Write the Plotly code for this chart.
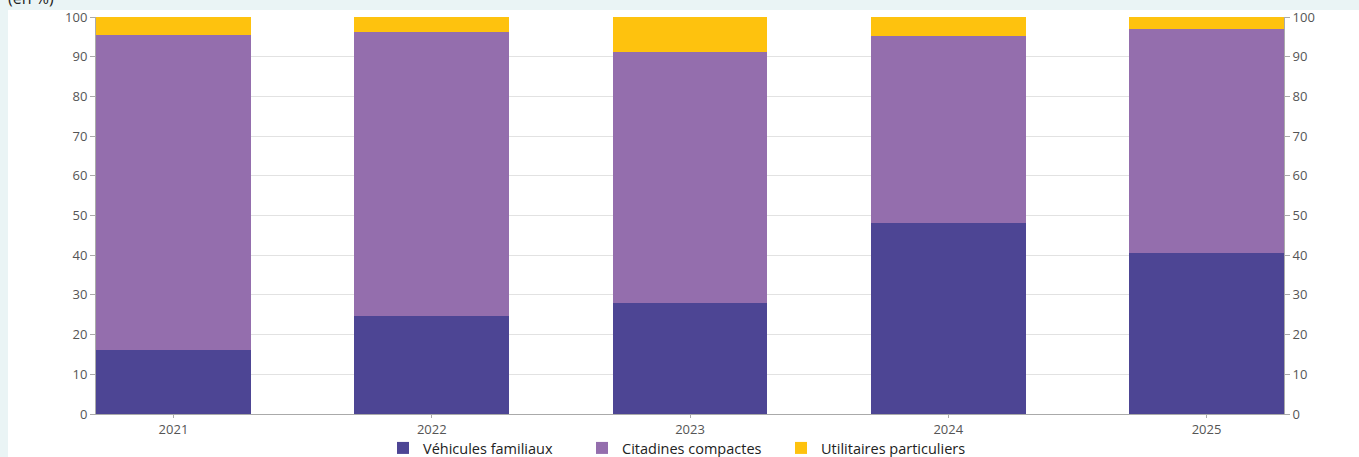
import plotly.graph_objects as go

years = ["2021", "2022", "2023", "2024", "2025"]
familiaux = [16.1, 24.7, 28.0, 48.1, 40.6]
citadines = [79.4, 71.5, 63.2, 47.1, 56.4]
utilitaires = [4.5, 3.8, 8.8, 4.8, 3.0]
series_names = ["Véhicules familiaux", "Citadines compactes", "Utilitaires particuliers"]
colors = ["#4D4594", "#946EAD", "#FEC20E"]
y_ticks = [0, 10, 20, 30, 40, 50, 60, 70, 80, 90, 100]

fig = go.Figure()
for name, vals, col in zip(series_names, [familiaux, citadines, utilitaires], colors):
    fig.add_trace(go.Bar(x=years, y=vals, name=name, marker=dict(color=col, line=dict(width=0))))
# invisible trace to anchor right axis
fig.add_trace(go.Scatter(x=years, y=[None]*5, yaxis="y2", showlegend=False, hoverinfo="skip", mode="lines"))

W, H = 1359, 457
L, R, T, B = 96, 1284, 17, 414
pw, ph = R - L, B - T

def px(x):
    return (x - L) / pw

def py(y):
    return (B - y) / ph

fig.add_shape(type="rect", xref="paper", yref="paper", x0=px(8), x1=px(W + 5), y0=py(H + 5), y1=py(10),
              fillcolor="white", line=dict(width=0), layer="below")

axis_font = dict(family="Open Sans", size=13, color="#555555")
fig.update_layout(
    width=W, height=H,
    margin=dict(l=L, r=W - R, t=T, b=H - B, autoexpand=False),
    paper_bgcolor="#EAF4F5",
    plot_bgcolor="white",
    barmode="stack",
    bargap=0.4,
    font=dict(family="Open Sans", color="#333333"),
    xaxis=dict(type="category", range=[-0.3, 4.3], showgrid=False, showline=True, linecolor="#AAAAAA",
               ticks="outside", ticklen=3, tickcolor="#AAAAAA", tickfont=axis_font, zeroline=False,
               automargin=False),
    yaxis=dict(range=[0, 100], tickvals=y_ticks, showgrid=True, gridcolor="#E2E2E2", showline=True,
               linecolor="#AAAAAA", ticks="outside", ticklen=5, tickcolor="#AAAAAA", tickfont=axis_font,
               zeroline=False, automargin=False),
    yaxis2=dict(range=[0, 100], tickvals=y_ticks, overlaying="y", side="right", showgrid=False, showline=True,
                linecolor="#AAAAAA", ticks="outside", ticklen=5, tickcolor="#AAAAAA", tickfont=axis_font,
                zeroline=False, automargin=False),
    legend=dict(orientation="h", x=px(383), xanchor="left", y=py(448), yanchor="middle",
                font=dict(family="Open Sans", size=14.5, color="#222222"), bgcolor="rgba(0,0,0,0)",
                entrywidth=154, traceorder="normal"),
    showlegend=True,
)
fig.add_annotation(text="(en %)", xref="paper", yref="paper", x=px(6), y=py(11), xanchor="left", yanchor="bottom",
                   showarrow=False, font=dict(family="Open Sans", size=16, color="#222222"))

fig.write_html("out.html")
